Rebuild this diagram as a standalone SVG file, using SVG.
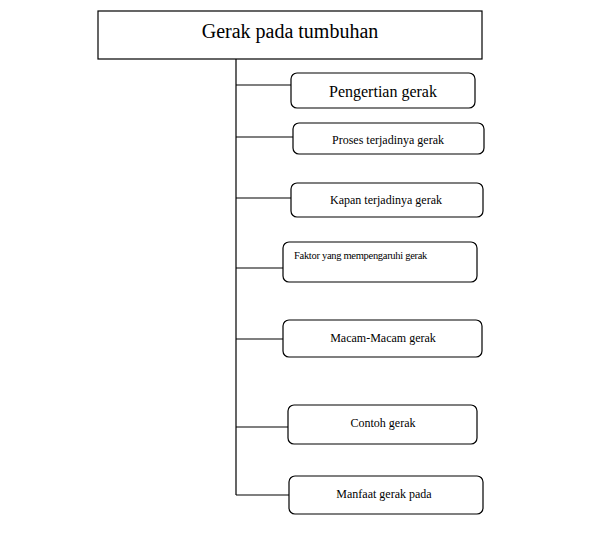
<svg xmlns="http://www.w3.org/2000/svg" width="607" height="547" viewBox="0 0 607 547">
<style>
.b{fill:#fff;stroke:#000;stroke-width:1.2}
.t{font-family:"Liberation Serif","DejaVu Serif",serif;fill:#000;text-anchor:middle}
.c{stroke:#000;stroke-width:1.2;fill:none}
</style>
<rect width="607" height="547" fill="#fff"/>
<g id="connectors">
<path class="c" d="M236 59V495M236 85H291M236 137H293M236 198H291M236 268H283M236 339H283M236 427H288M236 495H289"/>
</g>
<g id="title"><rect class="b" x="98" y="11" width="384" height="48"/><text class="t" x="290" y="38" font-size="20">Gerak pada tumbuhan</text></g>
<g id="n1"><rect class="b" x="291" y="73" width="184" height="35" rx="6"/><text class="t" x="383" y="97" font-size="16">Pengertian gerak</text></g>
<g id="n2"><rect class="b" x="293" y="123" width="191" height="31" rx="6"/><text class="t" x="388" y="144" font-size="12">Proses terjadinya gerak</text></g>
<g id="n3"><rect class="b" x="291" y="183" width="192" height="34" rx="6"/><text class="t" x="386" y="204" font-size="12">Kapan terjadinya gerak</text></g>
<g id="n4"><rect class="b" x="283" y="242" width="194" height="40" rx="6"/><text class="t" x="294" y="259" font-size="10.5" style="text-anchor:start" letter-spacing="-0.3">Faktor yang mempengaruhi gerak</text></g>
<g id="n5"><rect class="b" x="283" y="320" width="199" height="37" rx="6"/><text class="t" x="383" y="342" font-size="12">Macam-Macam gerak</text></g>
<g id="n6"><rect class="b" x="288" y="405" width="189" height="39" rx="6"/><text class="t" x="383" y="427" font-size="12">Contoh gerak</text></g>
<g id="n7"><rect class="b" x="289" y="476" width="194" height="38" rx="6"/><text class="t" x="384" y="498" font-size="12">Manfaat gerak pada</text></g>
</svg>
